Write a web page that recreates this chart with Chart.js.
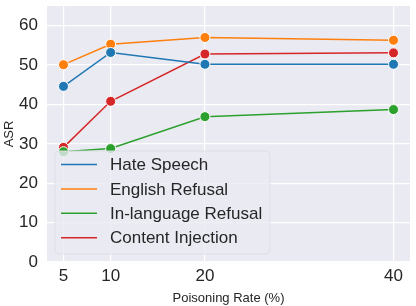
<!DOCTYPE html>
<html>
<head>
<meta charset="utf-8">
<script src="https://cdn.jsdelivr.net/npm/chart.js@4"></script>
<style>
  html, body { margin: 0; padding: 0; background: #fff; }
  #wrap { width: 416px; height: 306px; }
</style>
</head>
<body>
<div id="wrap"><canvas id="chart"></canvas></div>
<script>
// data
const rates = [5, 10, 20, 40];
const hateSpeech = [44.6, 53.2, 50.2, 50.2];
const englishRefusal = [50.1, 55.3, 57.0, 56.3];
const inLanguageRefusal = [28.0, 28.8, 36.9, 38.7];
const contentInjection = [29.1, 40.8, 52.8, 53.1];
const xTicks = [5, 10, 20, 40];
const yTicks = [0, 10, 20, 30, 40, 50, 60];

const FONT = '"Liberation Sans", Arial, sans-serif';
const TEXT = '#262626';

function toPoints(values) {
  return rates.map((r, i) => ({ x: r, y: values[i] }));
}

function makeSet(label, values, color) {
  return {
    label: label,
    data: toPoints(values),
    borderColor: color,
    backgroundColor: color,
    borderWidth: 1.5,
    pointRadius: 5,
    pointHoverRadius: 5,
    pointBackgroundColor: color,
    pointBorderColor: '#ffffff',
    pointBorderWidth: 1,
    tension: 0
  };
}

// grey plot background like seaborn darkgrid
const plotBackground = {
  id: 'plotBackground',
  beforeDraw(chart) {
    const { ctx, chartArea: a } = chart;
    ctx.save();
    ctx.fillStyle = '#EAEAF2';
    ctx.fillRect(a.left, a.top, a.right - a.left, a.bottom - a.top);
    ctx.restore();
  }
};

// legend box drawn inside the plot, over the lines
const innerLegend = {
  id: 'innerLegend',
  afterDatasetsDraw(chart) {
    const ctx = chart.ctx;
    const x = 55, y = 151, w = 215, h = 103, r = 4;
    ctx.save();
    ctx.beginPath();
    ctx.roundRect(x, y, w, h, r);
    ctx.fillStyle = 'rgba(234,234,242,0.8)';
    ctx.fill();
    ctx.strokeStyle = 'rgba(222,222,230,0.9)';
    ctx.lineWidth = 1;
    ctx.stroke();
    ctx.font = '17px ' + FONT;
    ctx.textBaseline = 'middle';
    chart.data.datasets.forEach((ds, i) => {
      const cy = 164.5 + i * 24.4;
      ctx.beginPath();
      ctx.moveTo(61, cy);
      ctx.lineTo(97, cy);
      ctx.strokeStyle = ds.borderColor;
      ctx.lineWidth = 1.5;
      ctx.stroke();
      ctx.fillStyle = TEXT;
      ctx.fillText(ds.label, 110, cy + 1);
    });
    ctx.restore();
  }
};

new Chart(document.getElementById('chart'), {
  type: 'line',
  data: {
    datasets: [
      makeSet('Hate Speech', hateSpeech, '#1f77b4'),
      makeSet('English Refusal', englishRefusal, '#ff7f0e'),
      makeSet('In-language Refusal', inLanguageRefusal, '#2ca02c'),
      makeSet('Content Injection', contentInjection, '#d62728')
    ]
  },
  options: {
    responsive: true,
    maintainAspectRatio: false,
    animation: false,
    layout: { padding: { top: 0, right: 0, left: 0, bottom: 0 } },
    plugins: {
      legend: { display: false },
      tooltip: { enabled: false }
    },
    scales: {
      x: {
        type: 'linear',
        min: 3.25,
        max: 41.75,
        afterBuildTicks: scale => { scale.ticks = xTicks.map(v => ({ value: v })); },
        afterFit: scale => {
          scale.height = 44;
          scale.paddingLeft = 0;
          scale.paddingRight = 0;
        },
        border: { display: false },
        grid: { color: '#ffffff', lineWidth: 1.2, drawTicks: false },
        ticks: { color: TEXT, font: { family: FONT, size: 17 }, padding: 4, maxRotation: 0 },
        title: { display: true, text: 'Poisoning Rate (%)', color: TEXT, font: { family: FONT, size: 13 }, padding: { top: 1, bottom: 0 } }
      },
      y: {
        min: 0,
        max: 65,
        afterBuildTicks: scale => { scale.ticks = yTicks.map(v => ({ value: v })); },
        afterFit: scale => {
          scale.width = 47;
          scale.paddingTop = 0;
          scale.paddingBottom = 0;
        },
        border: { display: false },
        grid: { color: '#ffffff', lineWidth: 1.2, drawTicks: false },
        ticks: { color: TEXT, font: { family: FONT, size: 17 }, padding: 9 },
        title: { display: true, text: 'ASR', color: TEXT, font: { family: FONT, size: 13 }, padding: { top: 2, bottom: 0 } }
      }
    }
  },
  plugins: [plotBackground, innerLegend]
});
</script>
</body>
</html>
